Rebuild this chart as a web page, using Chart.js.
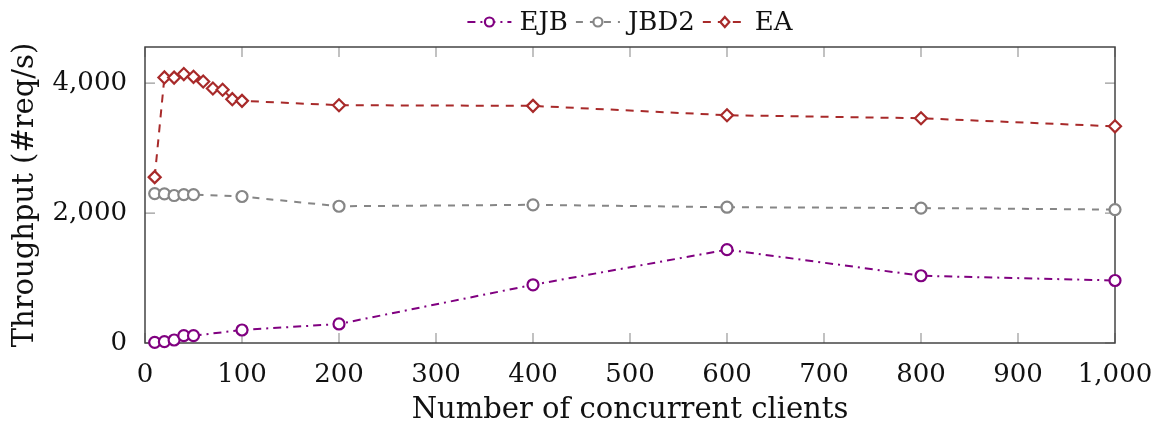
<!DOCTYPE html>
<html>
<head>
<meta charset="utf-8">
<script src="https://cdn.jsdelivr.net/npm/chart.js@4.4.1/dist/chart.umd.min.js"></script>
<style>
  html, body { margin: 0; padding: 0; background: #fff; }
  #wrap { width: 1157px; height: 432px; }
</style>
</head>
<body>
<div id="wrap"><canvas id="chart" width="1157" height="432"></canvas></div>
<script>
// clients on x, throughput on y
const clientsShort = [10, 20, 30, 40, 50, 100, 200, 400, 600, 800, 1000];
const clientsEA = [10, 20, 30, 40, 50, 60, 70, 80, 90, 100, 200, 400, 600, 800, 1000];

const ejbValues = [10, 20, 46, 113, 113, 200, 293, 896, 1436, 1035, 962];
const jbd2Values = [2300, 2295, 2270, 2285, 2285, 2255, 2105, 2127, 2090, 2077, 2054];
const eaValues = [2553, 4088, 4085, 4139, 4097, 4026, 3918, 3897, 3753, 3727, 3660, 3650, 3506, 3459, 3335];

const yTicks = [0, 2000, 4000];
const FONT = "'DejaVu Serif', 'Liberation Serif', serif";
const FSIZE = 26;

const toPoints = (xs, ys) => xs.map((x, i) => ({ x: x, y: ys[i] }));

// frame with inward ticks on all four sides
const framePlugin = {
  id: "frame",
  beforeDatasetsDraw(chart) {
    const { ctx, chartArea: a, scales } = chart;
    ctx.save();
    ctx.strokeStyle = "#999";
    ctx.lineWidth = 1.2;
    const len = 10;
    scales.x.ticks.forEach((t) => {
      const px = scales.x.getPixelForValue(t.value);
      ctx.beginPath();
      ctx.moveTo(px, a.bottom); ctx.lineTo(px, a.bottom - len);
      ctx.moveTo(px, a.top); ctx.lineTo(px, a.top + len);
      ctx.stroke();
    });
    scales.y.ticks.forEach((t) => {
      const py = scales.y.getPixelForValue(t.value);
      ctx.beginPath();
      ctx.moveTo(a.left, py); ctx.lineTo(a.left + len, py);
      ctx.moveTo(a.right, py); ctx.lineTo(a.right - len, py);
      ctx.stroke();
    });
    ctx.strokeStyle = "#444";
    ctx.lineWidth = 1.5;
    ctx.strokeRect(a.left, a.top, a.right - a.left, a.bottom - a.top);
    ctx.restore();
  },
};

// legend like the pgfplots one: dashed sample with a marker in the middle
const legendPlugin = {
  id: "topLegend",
  afterDraw(chart) {
    const { ctx, chartArea: a } = chart;
    const sets = chart.data.datasets;
    ctx.save();
    ctx.font = FSIZE + "px " + FONT;
    const sample = 44, gapA = 8, gapB = 8;
    let total = 0;
    const widths = sets.map((d) => ctx.measureText(d.label).width);
    widths.forEach((w) => { total += sample + gapA + w; });
    total += gapB * (sets.length - 1);
    const cx = (a.left + a.right) / 2;
    let x = cx - total / 2;
    const y = 22;
    ctx.fillStyle = "#fff";
    ctx.fillRect(x - 10, 0, total + 20, a.top - 1);
    sets.forEach((d, i) => {
      const mx = x + sample / 2;
      ctx.strokeStyle = d.borderColor;
      ctx.lineWidth = d.borderWidth;
      ctx.setLineDash(d.borderDash);
      ctx.beginPath();
      ctx.moveTo(x, y); ctx.lineTo(x + sample, y);
      ctx.stroke();
      ctx.setLineDash([]);
      ctx.fillStyle = "#fff";
      ctx.lineWidth = d.pointBorderWidth;
      ctx.beginPath();
      if (d.pointStyle === "rectRot") {
        ctx.moveTo(mx, y - 5); ctx.lineTo(mx + 4.5, y);
        ctx.lineTo(mx, y + 5); ctx.lineTo(mx - 4.5, y);
        ctx.closePath();
      } else {
        ctx.arc(mx, y, 4.5, 0, Math.PI * 2);
      }
      ctx.fill(); ctx.stroke();
      ctx.fillStyle = "#111";
      ctx.textBaseline = "middle";
      ctx.fillText(d.label, x + sample + gapA, y + 1);
      x += sample + gapA + widths[i] + gapB;
    });
    ctx.restore();
  },
};

const line = (label, data, color, dash, style) => ({
  label: label,
  data: data,
  borderColor: color,
  borderWidth: 2,
  borderDash: dash,
  pointStyle: style,
  pointRadius: style === "rectRot" ? 6 : 5.5,
  pointHoverRadius: 5.5,
  pointBorderWidth: 2.2,
  pointBorderColor: color,
  pointBackgroundColor: "#fff",
  tension: 0,
  fill: false,
  clip: false,
});

const tickFont = { family: FONT, size: FSIZE };
const titleFont = { family: FONT, size: 29 };

new Chart(document.getElementById("chart").getContext("2d"), {
  type: "line",
  data: {
    datasets: [
      line("EJB", toPoints(clientsShort, ejbValues), "#800080", [8, 5, 2, 5], "circle"),
      line("JBD2", toPoints(clientsShort, jbd2Values), "#868686", [7, 7], "circle"),
      line("EA", toPoints(clientsEA, eaValues), "#a82a2a", [8, 7], "rectRot"),
    ],
  },
  options: {
    responsive: false,
    animation: false,
    layout: { padding: { top: 47, right: 42, left: 0, bottom: 0 } },
    plugins: { legend: { display: false }, tooltip: { enabled: false } },
    scales: {
      x: {
        type: "linear",
        min: 0,
        max: 1000,
        grid: { display: false },
        border: { display: false },
        ticks: {
          stepSize: 100,
          maxRotation: 0,
          padding: 9,
          color: "#111",
          font: tickFont,
          callback: (v) => v.toLocaleString("en-US"),
        },
        title: {
          display: true,
          text: "Number of concurrent clients",
          color: "#111",
          font: titleFont,
          padding: { top: 4, bottom: 4 },
        },
        afterFit: (s) => { s.height = 89; s.paddingLeft = 0; s.paddingRight = 0; },
      },
      y: {
        min: 0,
        max: 4556,
        grid: { display: false },
        border: { display: false },
        ticks: {
          padding: 10,
          color: "#111",
          font: tickFont,
          callback: (v) => v.toLocaleString("en-US"),
        },
        afterBuildTicks: (s) => { s.ticks = yTicks.map((v) => ({ value: v })); },
        title: {
          display: true,
          text: "Throughput (#req/s)",
          color: "#111",
          font: titleFont,
          padding: { top: 8, bottom: 4 },
        },
        afterFit: (s) => { s.width = 145; s.paddingTop = 0; s.paddingBottom = 0; },
      },
    },
  },
  plugins: [framePlugin, legendPlugin],
});
</script>
</body>
</html>
